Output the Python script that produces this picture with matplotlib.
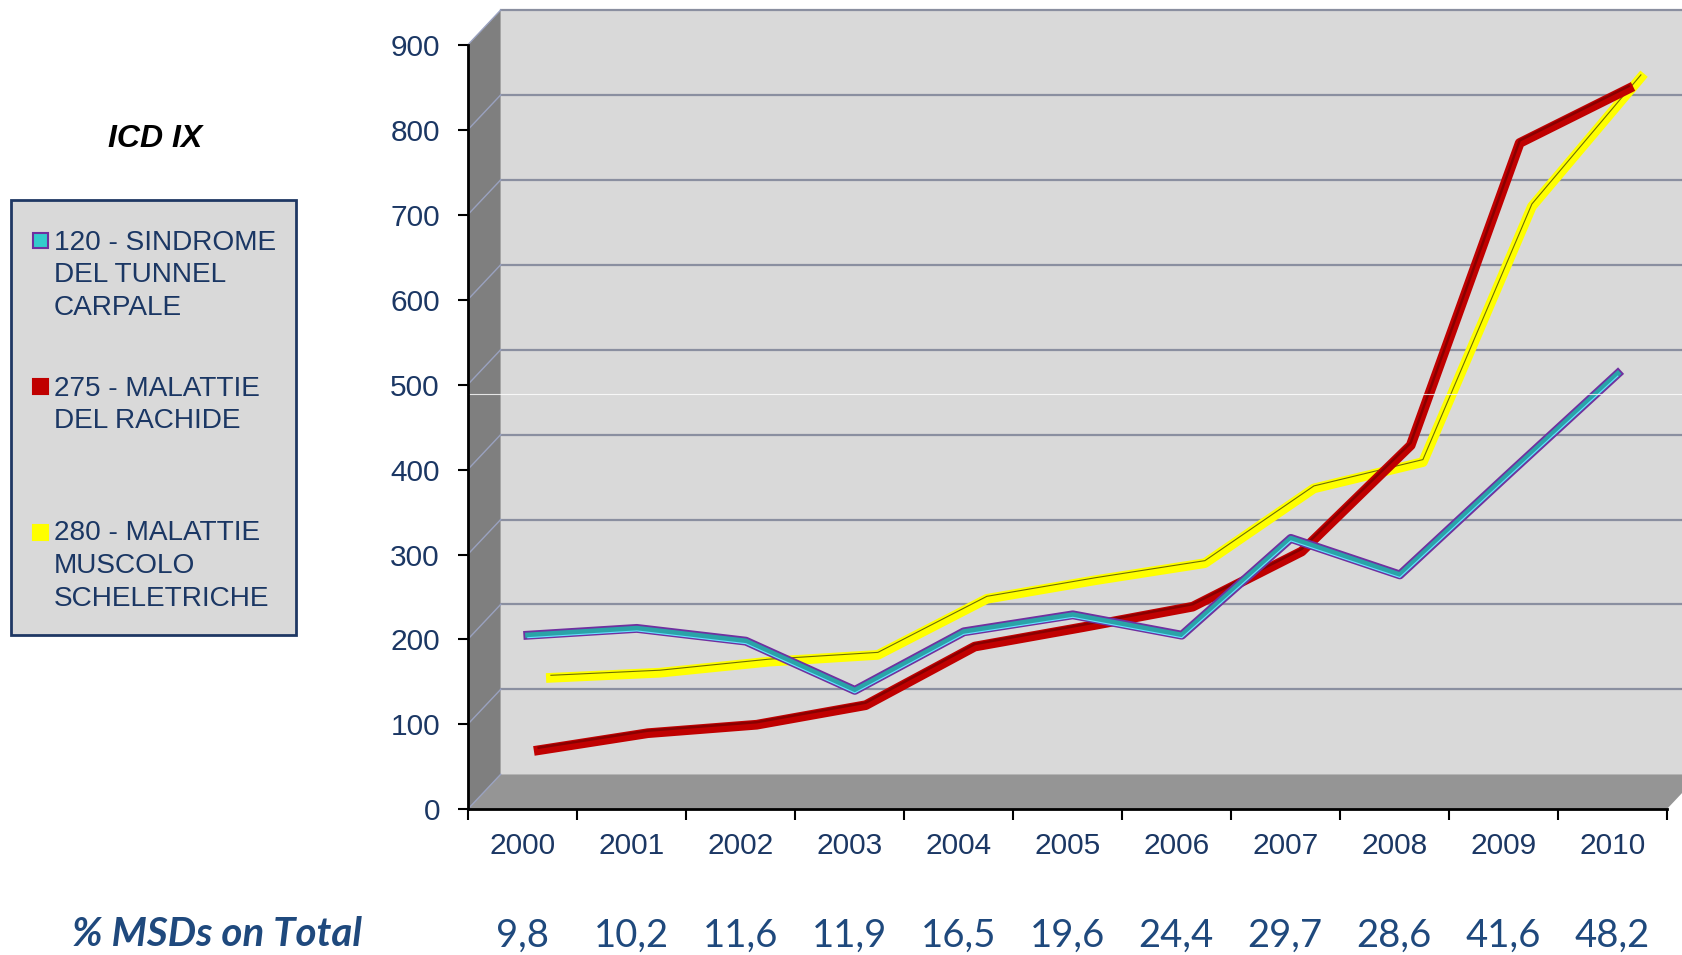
import matplotlib
matplotlib.use("Agg")
import matplotlib.pyplot as plt
import numpy as np
from matplotlib import transforms
from matplotlib.patches import Polygon, Rectangle

plt.rcParams["font.family"] = ["Liberation Sans", "DejaVu Sans"]

# data
years = ["2000", "2001", "2002", "2003", "2004", "2005",
         "2006", "2007", "2008", "2009", "2010"]
pct_msds = ["9,8", "10,2", "11,6", "11,9", "16,5", "19,6",
            "24,4", "29,7", "28,6", "41,6", "48,2"]
tunnel_carpale = [198, 206, 191, 133, 202, 222, 198, 312, 269, 388, 506]
rachide = [49, 69, 79, 102, 171, 194, 218, 283, 408, 764, 828]
muscolo_schel = [119, 125, 138, 146, 212, 234, 254, 342, 373, 674, 826]

legend_labels = ["120 - SINDROME\nDEL TUNNEL\nCARPALE",
                 "275 - MALATTIE\nDEL RACHIDE",
                 "280 - MALATTIE\nMUSCOLO\nSCHELETRICHE"]

NAVY = "#1b3764"
W, H = 1682, 955
DX, DY = 33, 35  # depth of the fake 3d box, pixels

fig = plt.figure(figsize=(W / 100, H / 100), dpi=100)
ax = fig.add_axes([467.7 / W, (H - 809.3) / H, 1199 / W, 764.3 / H])
ax.set_xlim(0, len(years))
ax.set_ylim(0, 900)
ax.set_facecolor("none")


def depth_tr(f):
    return ax.transData + transforms.ScaledTranslation(
        f * DX / fig.dpi, f * DY / fig.dpi, fig.dpi_scale_trans)


def proj(x, y, f):
    p = ax.transData.transform((x, y)) + f * np.array([DX, DY])
    return fig.transFigure.inverted().transform(p)


n = len(years)
# walls
ax.add_patch(Rectangle((0, 0), n, 900, transform=depth_tr(1), facecolor="#d9d9d9",
                       edgecolor="none", clip_on=False, zorder=0.1))
ax.add_patch(Polygon([proj(0, 0, 0), proj(0, 900, 0), proj(0, 900, 1), proj(0, 0, 1)],
                     closed=True, transform=fig.transFigure, facecolor="#7f7f7f",
                     edgecolor="none", clip_on=False, zorder=0.2))
ax.add_patch(Polygon([proj(0, 0, 0), proj(n, 0, 0), proj(n, 0, 1), proj(0, 0, 1)],
                     closed=True, transform=fig.transFigure, facecolor="#959595",
                     edgecolor="none", clip_on=False, zorder=0.2))

# gridlines on back wall and left wall
for v in range(0, 1000, 100):
    if v > 0:
        ax.plot([0, n], [v, v], transform=depth_tr(1), color="#8a8fa0", lw=1.6,
                clip_on=False, zorder=0.3)
    a, b = proj(0, v, 0), proj(0, v, 1)
    ax.plot([a[0], b[0]], [a[1], b[1]], transform=fig.transFigure, color="#9aa2c0",
            lw=1.0, clip_on=False, zorder=0.3)

# faint white streak across the wall
fig.add_artist(plt.Line2D([470 / W, 1], [1 - 394 / H, 1 - 394 / H], color="white",
                          lw=0.8, alpha=0.8, zorder=0.35))

x = np.arange(n) + 0.5

# back series first
tr = depth_tr(0.87)
ax.plot(x, muscolo_schel, color="#ffff00", lw=7, transform=tr, clip_on=False, zorder=2)
ax.plot(x, muscolo_schel, color="#6f6f00", lw=0.8,
        transform=tr + transforms.Affine2D().translate(0, 2.5), clip_on=False, zorder=2.1)

tr = depth_tr(0.5)
ax.plot(x, rachide, color="#c00000", lw=7, transform=tr, clip_on=False, zorder=3)
ax.plot(x, rachide, color="#8a0000", lw=1.8,
        transform=tr + transforms.Affine2D().translate(0, 2.5), clip_on=False, zorder=3.1)

tr = depth_tr(0.17)
ax.plot(x, tunnel_carpale, color="#7030a0", lw=6.4, transform=tr, clip_on=False, zorder=4)
ax.plot(x, tunnel_carpale, color="#2aa3a8", lw=3.8, transform=tr, clip_on=False, zorder=4.1)
ax.plot(x, tunnel_carpale, color="#66e0ff", lw=0.8,
        transform=tr + transforms.Affine2D().translate(0, -2.5), clip_on=False, zorder=4.2)

# axes
for s in ["top", "right"]:
    ax.spines[s].set_visible(False)
for s in ["left", "bottom"]:
    ax.spines[s].set_color("black")
    ax.spines[s].set_linewidth(2)
    ax.spines[s].set_zorder(5)

ax.set_yticks(range(0, 1000, 100))
ax.tick_params(axis="y", direction="out", length=7, width=1.5, colors="black",
               labelcolor=NAVY, labelsize=21.5, pad=13)
ax.set_xticks(range(n + 1))
ax.set_xticklabels([])
ax.set_xticks(x, years, minor=True)
ax.tick_params(axis="x", which="major", direction="out", length=8, width=1.5)
ax.tick_params(axis="x", which="minor", length=0, labelcolor=NAVY, labelsize=21.5, pad=16)

# % MSDs row
blend = transforms.blended_transform_factory(ax.transData, fig.transFigure)
for xi, p in zip(x, pct_msds):
    ax.text(xi, 1 - 936 / H, p, transform=blend, ha="center", va="center",
            fontsize=27.5, family=["Lato", "DejaVu Sans"], color="#1f497d", clip_on=False)
fig.text(72 / W, 1 - 934 / H, "% MSDs on Total", ha="left", va="center", fontsize=29,
         family=["Lato", "DejaVu Sans"], fontweight="bold", style="italic", color="#1f497d")

# legend
fig.text(155 / W, 1 - 139 / H, "ICD IX", ha="center", va="center", fontsize=23,
         fontweight="bold", style="italic", color="black")
fig.patches.append(Rectangle((11 / W, 1 - 635 / H), 285 / W, 435 / H,
                             transform=fig.transFigure, facecolor="#d9d9d9",
                             edgecolor="#1f3864", lw=2))
legend_faces = ["#33cccc", "#c00000", "#ffff00"]
legend_edges = ["#7030a0", "#c00000", "#ffff00"]
legend_y = [241, 387, 532]
for lab, fc, ec, yy in zip(legend_labels, legend_faces, legend_edges, legend_y):
    fig.patches.append(Rectangle((33 / W, 1 - (yy + 7.5) / H), 15 / W, 15 / H,
                                 transform=fig.transFigure, facecolor=fc,
                                 edgecolor=ec, lw=1.5))
    fig.text(54 / W, 1 - (yy - 11.5) / H, lab, ha="left", va="top", fontsize=20.2,
             color=NAVY, linespacing=1.33)

fig.savefig("out.png", dpi=100)
